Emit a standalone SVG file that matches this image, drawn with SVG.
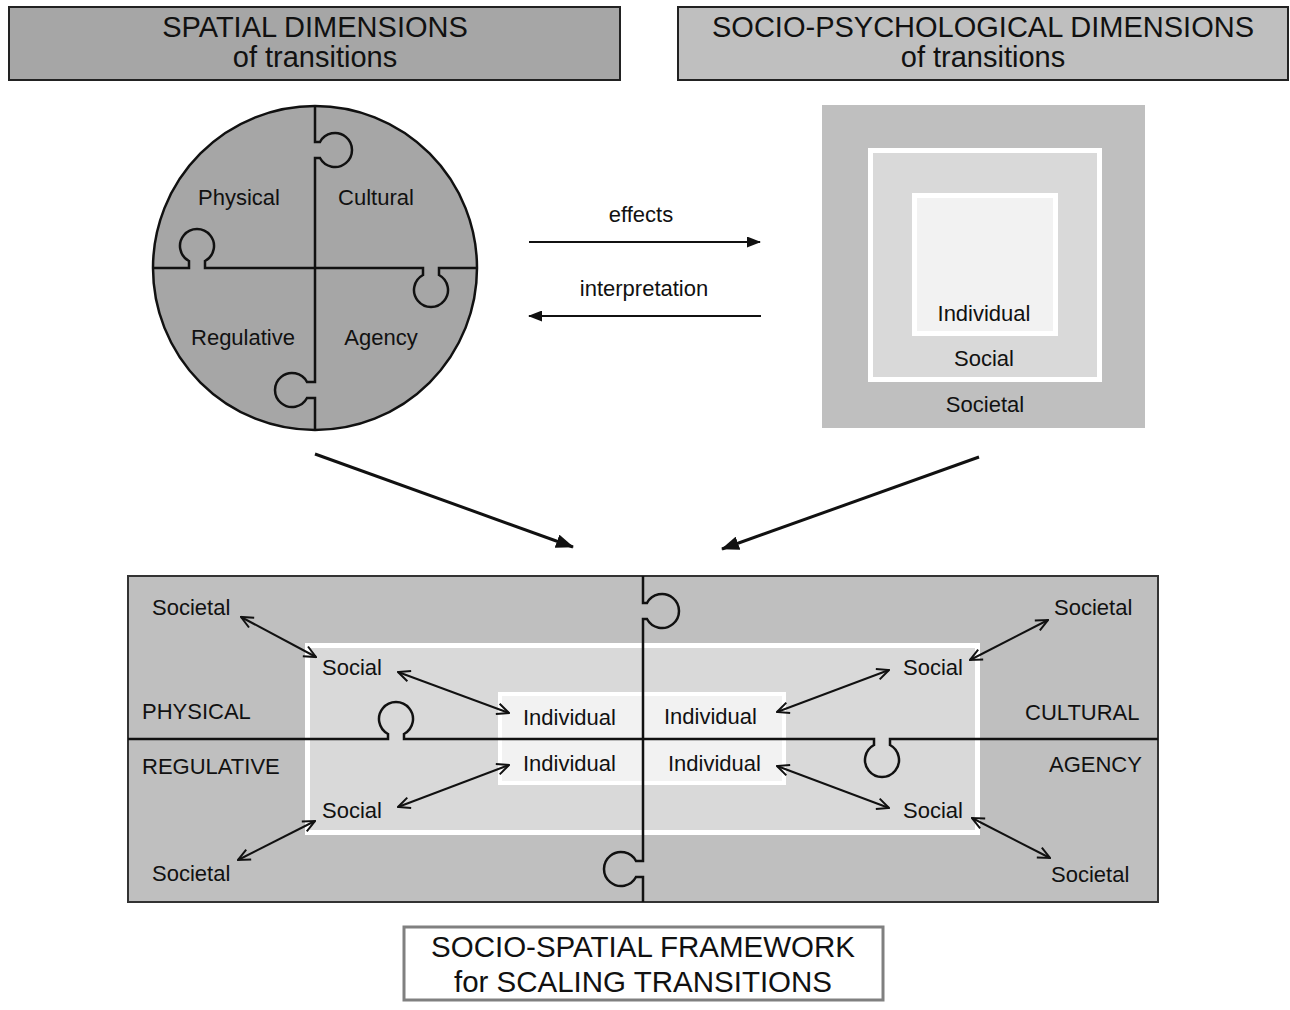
<svg xmlns="http://www.w3.org/2000/svg" width="1290" height="1010" viewBox="0 0 1290 1010">
<style>
text{font-family:"Liberation Sans",Arial,sans-serif;fill:#111}
.h{font-size:29px;text-anchor:middle}
.hb{font-size:29.5px;text-anchor:middle}
.t{font-size:22px}
.c{text-anchor:middle}
.ln{fill:none;stroke:#111;stroke-width:2.5}
.dbl{fill:none;stroke:#111;stroke-width:2;marker-start:url(#open);marker-end:url(#open)}
</style>
<defs>
<marker id="open" viewBox="0 0 14 14" refX="13" refY="7" markerWidth="14" markerHeight="14" markerUnits="userSpaceOnUse" orient="auto-start-reverse">
<path d="M1,1.5 L13,7 L1,12.5" fill="none" stroke="#111" stroke-width="2"/>
</marker>
<marker id="fill" viewBox="0 0 14 11" refX="13" refY="5.5" markerWidth="14" markerHeight="11" markerUnits="userSpaceOnUse" orient="auto">
<path d="M0,0 L14,5.5 L0,11 z" fill="#111"/>
</marker>
<marker id="fillb" viewBox="0 0 18 14" refX="17" refY="7" markerWidth="18" markerHeight="14" markerUnits="userSpaceOnUse" orient="auto">
<path d="M0,0 L18,7 L0,14 z" fill="#111"/>
</marker>
</defs>
<rect width="1290" height="1010" fill="#fff"/>

<g id="header-spatial">
<rect x="9" y="7" width="611" height="73" fill="#a6a6a6" stroke="#222" stroke-width="2"/>
<text class="h" x="315" y="37">SPATIAL DIMENSIONS</text>
<text class="h" x="315" y="67">of transitions</text>
</g>

<g id="header-socio">
<rect x="678" y="7" width="610" height="73" fill="#bfbfbf" stroke="#222" stroke-width="2"/>
<text class="h" x="983" y="37">SOCIO-PSYCHOLOGICAL DIMENSIONS</text>
<text class="h" x="983" y="67">of transitions</text>
</g>

<g id="spatial-puzzle">
<circle cx="315" cy="268" r="162" fill="#a6a6a6" stroke="#111" stroke-width="2.5"/>
<path class="ln" d="M315,106 V142 H320 A17,17 0 1 1 320,158 H315 V382 H307 A17,17 0 1 0 307,398 H315 V430"/>
<path class="ln" d="M153,268 H189 V261 A17,17 0 1 1 205,261 V268 H423 V275 A17,17 0 1 0 439,275 V268 H477"/>
<text class="t c" x="239" y="205">Physical</text>
<text class="t c" x="376" y="205">Cultural</text>
<text class="t c" x="243" y="345">Regulative</text>
<text class="t c" x="381" y="345">Agency</text>
</g>

<g id="socio-squares">
<rect x="822" y="105" width="323" height="323" fill="#bfbfbf"/>
<rect x="870.5" y="150.5" width="229" height="229" fill="#d9d9d9" stroke="#fff" stroke-width="5"/>
<rect x="914.5" y="195.5" width="141" height="138" fill="#f2f2f2" stroke="#fff" stroke-width="5"/>
<text class="t c" x="984" y="321">Individual</text>
<text class="t c" x="984" y="366">Social</text>
<text class="t c" x="985" y="412">Societal</text>
</g>

<g id="framework">
<rect x="128" y="576" width="1030" height="326" fill="#bfbfbf" stroke="#333" stroke-width="2"/>
<rect x="307.5" y="645.5" width="670" height="187" fill="#d9d9d9" stroke="#fff" stroke-width="5"/>
<rect x="500" y="694" width="284" height="89" fill="#f2f2f2" stroke="#fff" stroke-width="4"/>
<path class="ln" d="M643,576 V603 H647 A17,17 0 1 1 647,619 H643 V861 H636 A17,17 0 1 0 636,877 H643 V902"/>
<path class="ln" d="M128,739 H388 V734 A17,17 0 1 1 404,734 V739 H874 V745 A17,17 0 1 0 890,745 V739 H1158"/>
<text class="t" x="152" y="615">Societal</text>
<text class="t" x="322" y="675">Social</text>
<text class="t" x="142" y="719">PHYSICAL</text>
<text class="t" x="142" y="774">REGULATIVE</text>
<text class="t" x="523" y="725">Individual</text>
<text class="t" x="664" y="724">Individual</text>
<text class="t" x="523" y="771">Individual</text>
<text class="t" x="668" y="771">Individual</text>
<text class="t" x="322" y="818">Social</text>
<text class="t" x="152" y="881">Societal</text>
<text class="t" x="1054" y="615">Societal</text>
<text class="t" x="903" y="675">Social</text>
<text class="t" x="1025" y="720">CULTURAL</text>
<text class="t" x="1049" y="772">AGENCY</text>
<text class="t" x="903" y="818">Social</text>
<text class="t" x="1051" y="882">Societal</text>
</g>

<g id="title-framework">
<rect x="404" y="927" width="479" height="73" fill="#fff" stroke="#808080" stroke-width="3"/>
<text class="hb" x="643" y="957">SOCIO-SPATIAL FRAMEWORK</text>
<text class="hb" x="643" y="992">for SCALING TRANSITIONS</text>
</g>

<g id="connectors">
<line x1="529" y1="242" x2="760" y2="242" stroke="#111" stroke-width="2" marker-end="url(#fill)"/>
<text class="t c" x="641" y="222">effects</text>
<line x1="761" y1="316" x2="529" y2="316" stroke="#111" stroke-width="2" marker-end="url(#fill)"/>
<text class="t c" x="644" y="296">interpretation</text>
<line x1="315" y1="454" x2="573" y2="547" stroke="#111" stroke-width="3" marker-end="url(#fillb)"/>
<line x1="979" y1="457" x2="722" y2="549" stroke="#111" stroke-width="3" marker-end="url(#fillb)"/>
<line class="dbl" x1="241" y1="617" x2="316" y2="657"/>
<line class="dbl" x1="398" y1="672" x2="509" y2="713"/>
<line class="dbl" x1="509" y1="765" x2="398" y2="807"/>
<line class="dbl" x1="315" y1="821" x2="238" y2="860"/>
<line class="dbl" x1="1048" y1="620" x2="970" y2="660"/>
<line class="dbl" x1="889" y1="670" x2="777" y2="712"/>
<line class="dbl" x1="777" y1="766" x2="889" y2="808"/>
<line class="dbl" x1="972" y1="818" x2="1050" y2="858"/>
</g>
</svg>
